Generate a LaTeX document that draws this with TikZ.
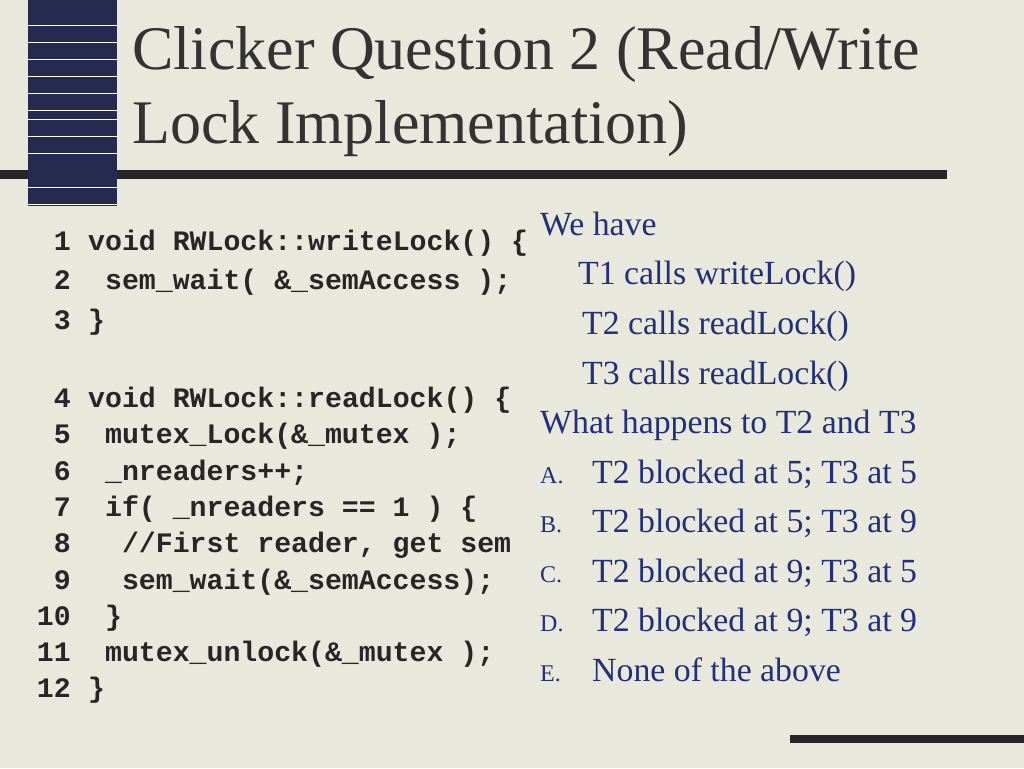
\documentclass[tikz,border=0pt]{standalone}
\usepackage{fontspec}
\setmainfont{Liberation Serif}
\setmonofont{Liberation Mono}
\begin{document}
\begin{tikzpicture}[x=1pt,y=-1pt,
  code/.style={anchor=base west,inner sep=0,font=\fontsize{28.2}{28}\ttfamily\bfseries,text=black!85},
  num/.style={anchor=base east,inner sep=0,font=\fontsize{28.2}{28}\ttfamily\bfseries,text=black!85},
  rt/.style={anchor=base west,inner sep=0,font=\fontsize{33.8}{34}\selectfont,text=navy},
  lbl/.style={anchor=base west,inner sep=0,font=\fontsize{24}{24}\selectfont,text=navy},
  tt/.style={anchor=base west,inner sep=0,font=\fontsize{62}{62}\selectfont,text=black!80}]
\definecolor{navy}{HTML}{22307A}
\definecolor{bg}{HTML}{E9E8DC}
\definecolor{blk}{HTML}{252A4E}
\fill[bg] (0,0) rectangle (1024,768);
\useasboundingbox (0,0) rectangle (1024,768);
\fill[black!85] (0,170) rectangle (947,179);
\fill[black!85] (790,735) rectangle (1024,743);
\fill[blk] (28,0) rectangle (117,206);
\foreach \y in {25,42,59,76,93,110,119,136,153,187,204}
  \draw[white,line width=0.8] (28,\y) -- (117,\y);
\node[tt] (t1) at (132,70) {Clicker Question 2 (Read/Write};
\node[tt] (t2) at (132,143) {Lock Implementation)};
% code
\foreach \n/\y/\i/\t [count=\k] in {
 1/250/0/{void RWLock::writeLock() \{},
 2/289/1/{sem\_wait( \&\_semAccess );},
 3/329/0/{\}},
 4/407/0/{void RWLock::readLock() \{},
 5/443/1/{mutex\_Lock(\&\_mutex );},
 6/480/1/{\_nreaders++;},
 7/516/1/{if( \_nreaders == 1 ) \{},
 8/552/2/{//First reader, get sem},
 9/589/2/{sem\_wait(\&\_semAccess);},
 10/625/1/{\}},
 11/661/1/{mutex\_unlock(\&\_mutex );},
 12/697/0/{\}}}{
  \node[num] (n\k) at (71,\y) {\n};
  \node[code] (c\k) at (88+16.9*\i,\y) {\t};
}
% right
\node[rt] (r1) at (540,235) {We have};
\node[rt] (r2) at (578,284) {T1 calls writeLock()};
\node[rt] (r3) at (582,334) {T2 calls readLock()};
\node[rt] (r4) at (582,384) {T3 calls readLock()};
\node[rt] (r5) at (540,433) {What happens to T2 and T3};
\foreach \l/\y/\t in {A/483/T2 blocked at 5; T3 at 5,B/532/T2 blocked at 5; T3 at 9,C/582/T2 blocked at 9; T3 at 5,D/631/T2 blocked at 9; T3 at 9,E/681/None of the above}{
  \node[lbl] (l\l) at (540,\y) {\l.};
  \node[rt] (a\l) at (592,\y) {\t};
}
\end{tikzpicture}
\end{document}
